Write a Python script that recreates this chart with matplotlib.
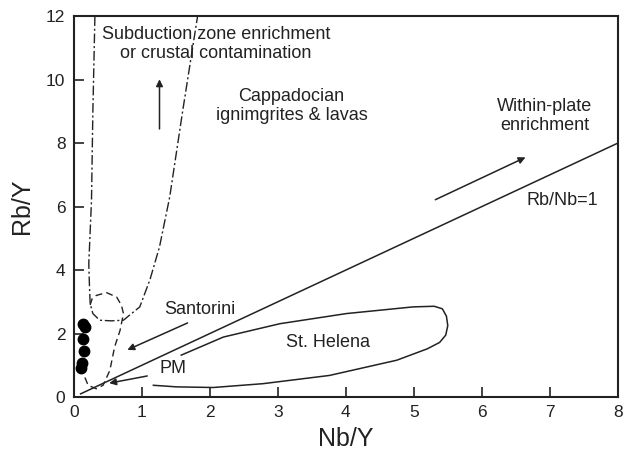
import matplotlib
matplotlib.use('Agg')
import matplotlib.pyplot as plt

plt.rcParams['font.family'] = ['Liberation Sans', 'DejaVu Sans']

# samples (Nb/Y, Rb/Y)
sample_x = [0.14, 0.16, 0.14, 0.15, 0.12, 0.11]
sample_y = [2.29, 2.20, 1.82, 1.45, 1.07, 0.90]

# Rb/Nb = 1 reference line
ref_x = [0.1, 8.0]
ref_y = [0.1, 8.0]

# Cappadocian field (dash-dot U shape)
capp_x = [0.31, 0.28, 0.26, 0.24, 0.22, 0.23, 0.24, 0.28, 0.38, 0.55, 0.73, 0.82, 0.97, 1.12, 1.26, 1.41, 1.60, 1.82]
capp_y = [12.0, 9.0, 6.2, 5.2, 4.2, 3.5, 2.95, 2.63, 2.42, 2.40, 2.42, 2.58, 2.84, 3.70, 4.73, 6.30, 9.00, 12.0]

# Santorini field (dashed)
sant_x = [0.24, 0.27, 0.33, 0.48, 0.63, 0.70, 0.73, 0.68, 0.60, 0.53, 0.43, 0.33, 0.21, 0.16]
sant_y = [2.90, 3.10, 3.20, 3.29, 3.15, 2.89, 2.63, 2.10, 1.58, 0.84, 0.37, 0.26, 0.37, 0.63]

# St. Helena field (solid, open at left)
sth_x = [1.58, 2.20, 3.03, 4.01, 4.99, 5.30, 5.42, 5.48, 5.50, 5.47, 5.38, 5.20, 4.75, 3.76, 2.78, 2.05, 1.51, 1.17]
sth_y = [1.32, 1.89, 2.31, 2.63, 2.84, 2.86, 2.78, 2.55, 2.25, 1.95, 1.72, 1.52, 1.16, 0.68, 0.42, 0.30, 0.32, 0.37]

col = '#222222'

fig = plt.figure(figsize=(6.31, 4.63), dpi=100)
ax = fig.add_axes([0.117, 0.1425, 0.862, 0.8225])

ax.plot(ref_x, ref_y, color=col, lw=1.1)
ax.plot(capp_x, capp_y, color=col, lw=1.0, linestyle=(0, (7, 2, 1.5, 2)))
ax.plot(sant_x, sant_y, color=col, lw=1.0, linestyle=(0, (5, 3)))
ax.plot(sth_x, sth_y, color=col, lw=1.1)
ax.plot(sample_x, sample_y, 'o', color='black', markersize=7.5)

arrow = dict(arrowstyle='-|>', color=col, lw=1.1, mutation_scale=10)
ax.annotate('', xy=(1.26, 10.1), xytext=(1.26, 8.36), arrowprops=arrow)
ax.annotate('', xy=(6.68, 7.59), xytext=(5.28, 6.18), arrowprops=arrow)
ax.annotate('', xy=(0.75, 1.45), xytext=(1.71, 2.37), arrowprops=arrow)
ax.annotate('', xy=(0.48, 0.42), xytext=(1.12, 0.68), arrowprops=arrow)

fs = 13
ax.text(2.09, 11.12, 'Subduction zone enrichment\nor crustal contamination',
        ha='center', va='center', fontsize=fs, color=col, linespacing=1.15)
ax.text(3.2, 9.17, 'Cappadocian\nignimgrites & lavas',
        ha='center', va='center', fontsize=fs, color=col, linespacing=1.15)
ax.text(6.93, 8.86, 'Within-plate\nenrichment',
        ha='center', va='center', fontsize=fs, color=col, linespacing=1.15)
ax.text(7.19, 6.2, 'Rb/Nb=1', ha='center', va='center', fontsize=fs, color=col)
ax.text(1.85, 2.77, 'Santorini', ha='center', va='center', fontsize=fs, color=col)
ax.text(1.46, 0.9, 'PM', ha='center', va='center', fontsize=fs, color=col)
ax.text(3.74, 1.73, 'St. Helena', ha='center', va='center', fontsize=fs, color=col)

ax.set_xlim(0, 8)
ax.set_ylim(0, 12)
ax.set_xticks(range(0, 9))
ax.set_yticks(range(0, 13, 2))
ax.tick_params(direction='in', length=7, width=1.2, labelsize=12.5, colors=col, pad=6)
for s in ax.spines.values():
    s.set_linewidth(1.5)
    s.set_color(col)

ax.set_xlabel('Nb/Y', fontsize=18, color=col, labelpad=5)
ax.set_ylabel('Rb/Y', fontsize=18, color=col, labelpad=9)

fig.savefig('out.png', dpi=100)
